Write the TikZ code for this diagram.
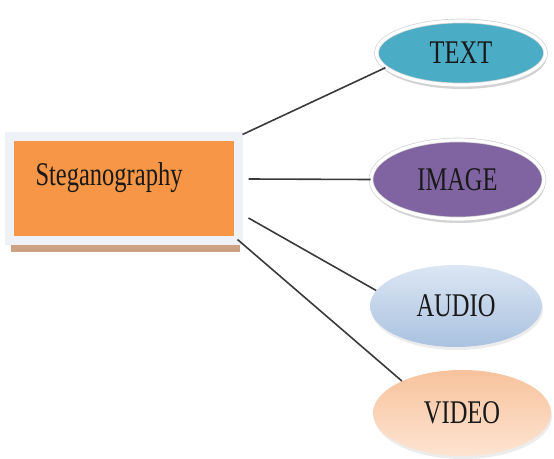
\documentclass[tikz,border=0pt]{standalone}
\usepackage{fontspec}
\setmainfont{Liberation Serif}
\usetikzlibrary{shapes.geometric,shadows}

\definecolor{steporange}{HTML}{F79646}
\definecolor{stepframe}{HTML}{EEF2F6}
\definecolor{stepshade}{HTML}{CDA282}
\definecolor{textaqua}{HTML}{4BACC6}
\definecolor{imagepurple}{HTML}{8064A2}
\definecolor{audiotop}{HTML}{DCE6F3}
\definecolor{audiobot}{HTML}{A9C2E0}
\definecolor{videotop}{HTML}{F7C29C}
\definecolor{videobot}{HTML}{FDE4D2}
\definecolor{linkgray}{HTML}{3A3A3A}

\newcommand{\vstretch}[1]{\scalebox{1}[1.35]{#1}}

\begin{document}
\begin{tikzpicture}[x=1pt,y=-1pt]
\tikzstyle{every node}=[font=\fontsize{24.5}{28}\selectfont,text=black!90]
\tikzstyle{link}=[draw=linkgray,line width=1.6pt]
\tikzstyle{mainbox}=[rectangle,fill=steporange,draw=stepframe,line width=9pt,
  minimum width=229pt,minimum height=104pt,
  drop shadow={shadow xshift=2pt,shadow yshift=-12pt,opacity=1,fill=stepshade}]
\tikzstyle{medium}=[ellipse,inner sep=0pt]
\tikzstyle{rimmed}=[medium,draw=black!18,line width=0.7pt,double=white,
  double distance=3.2pt,
  drop shadow={shadow xshift=1pt,shadow yshift=-4pt,opacity=.35}]
\tikzstyle{soft}=[medium,
  drop shadow={shadow xshift=1pt,shadow yshift=-3pt,opacity=.15}]

\useasboundingbox (0,0) rectangle (554,458);

%% Main box
\node [mainbox] (steg) at (123.5,188) {};
\node [anchor=west] (steglabel) at (32,178) {\vstretch{Steganography}};

%% Media types
\node [rimmed,fill=textaqua,minimum width=169pt,minimum height=64pt]
  (txt) at (461,53) {\vstretch{TEXT}};
\node [rimmed,fill=imagepurple,minimum width=173pt,minimum height=79pt]
  (img) at (457.5,179.5) {\vstretch{IMAGE}};
\node [soft,top color=audiotop,bottom color=audiobot,
  minimum width=172pt,minimum height=82pt]
  (aud) at (456,306) {\vstretch{AUDIO}};
\node [soft,top color=videotop,bottom color=videobot,
  minimum width=178pt,minimum height=86pt]
  (vid) at (462,413) {\vstretch{VIDEO}};

%% Links
\path[link] ([yshift=-3pt]steg.north east) -- (txt.191);
\path[link] ([xshift=6pt,yshift=9pt]steg.east) -- (img.west);
\path[link] ([xshift=6pt,yshift=-30pt]steg.east) -- (aud.169);
\path[link] ([xshift=-5pt,yshift=5pt]steg.south east) -- (vid.152);

\end{tikzpicture}
\end{document}
